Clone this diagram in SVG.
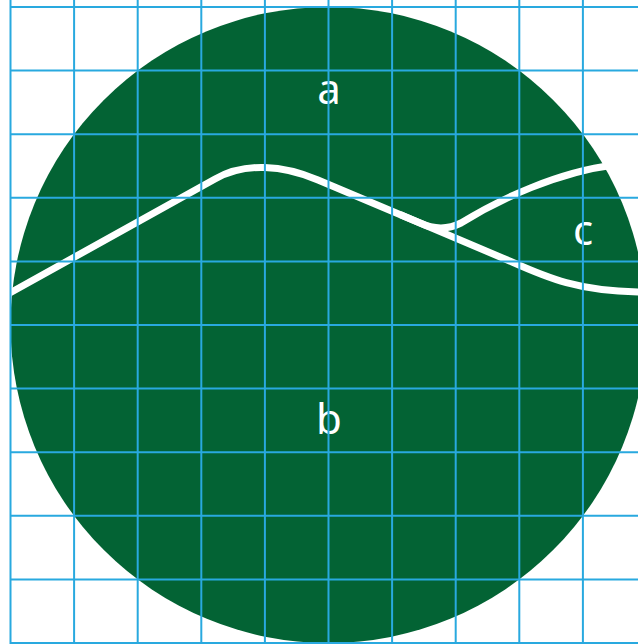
<svg xmlns="http://www.w3.org/2000/svg" width="638" height="644" viewBox="0 0 638 644">
<style>
.grid line{stroke:#29a9df;stroke-width:2}
.curve{fill:none;stroke:#ffffff;stroke-width:7;stroke-linecap:butt;stroke-linejoin:round}
.lbl{font-family:"Noto Sans","Open Sans",sans-serif;font-size:42px;fill:#ffffff;text-anchor:middle}
</style>
<rect width="638" height="644" fill="#ffffff"/>
<circle id="disc" cx="328.5" cy="325" r="318" fill="#036334"/>
<g id="boundaries">
<path class="curve" d="M8,294 L215,179 C245,162 283,165 318,180 L420,223 C433,229 447,230 461,223 C500,199 558,172 614,165"/>
<path class="curve" d="M400,214.5 L512,262 C548,278 578,291 640,292"/>
</g>
<g id="labels">
<text class="lbl" x="329" y="104">a</text>
<text class="lbl" x="329" y="434">b</text>
<text class="lbl" x="583" y="245">c</text>
</g>
<g class="grid" id="grid">
<line x1="10.5" y1="0" x2="10.5" y2="644"/>
<line x1="74.1" y1="0" x2="74.1" y2="644"/>
<line x1="137.7" y1="0" x2="137.7" y2="644"/>
<line x1="201.3" y1="0" x2="201.3" y2="644"/>
<line x1="264.9" y1="0" x2="264.9" y2="644"/>
<line x1="328.5" y1="0" x2="328.5" y2="644"/>
<line x1="392.1" y1="0" x2="392.1" y2="644"/>
<line x1="455.7" y1="0" x2="455.7" y2="644"/>
<line x1="519.3" y1="0" x2="519.3" y2="644"/>
<line x1="582.9" y1="0" x2="582.9" y2="644"/>
<line x1="10.5" y1="7" x2="638" y2="7"/>
<line x1="10.5" y1="70.6" x2="638" y2="70.6"/>
<line x1="10.5" y1="134.2" x2="638" y2="134.2"/>
<line x1="10.5" y1="197.8" x2="638" y2="197.8"/>
<line x1="10.5" y1="261.4" x2="638" y2="261.4"/>
<line x1="10.5" y1="325" x2="638" y2="325"/>
<line x1="10.5" y1="388.6" x2="638" y2="388.6"/>
<line x1="10.5" y1="452.2" x2="638" y2="452.2"/>
<line x1="10.5" y1="515.8" x2="638" y2="515.8"/>
<line x1="10.5" y1="579.4" x2="638" y2="579.4"/>
<line x1="10.5" y1="643" x2="638" y2="643"/>
</g>
</svg>
